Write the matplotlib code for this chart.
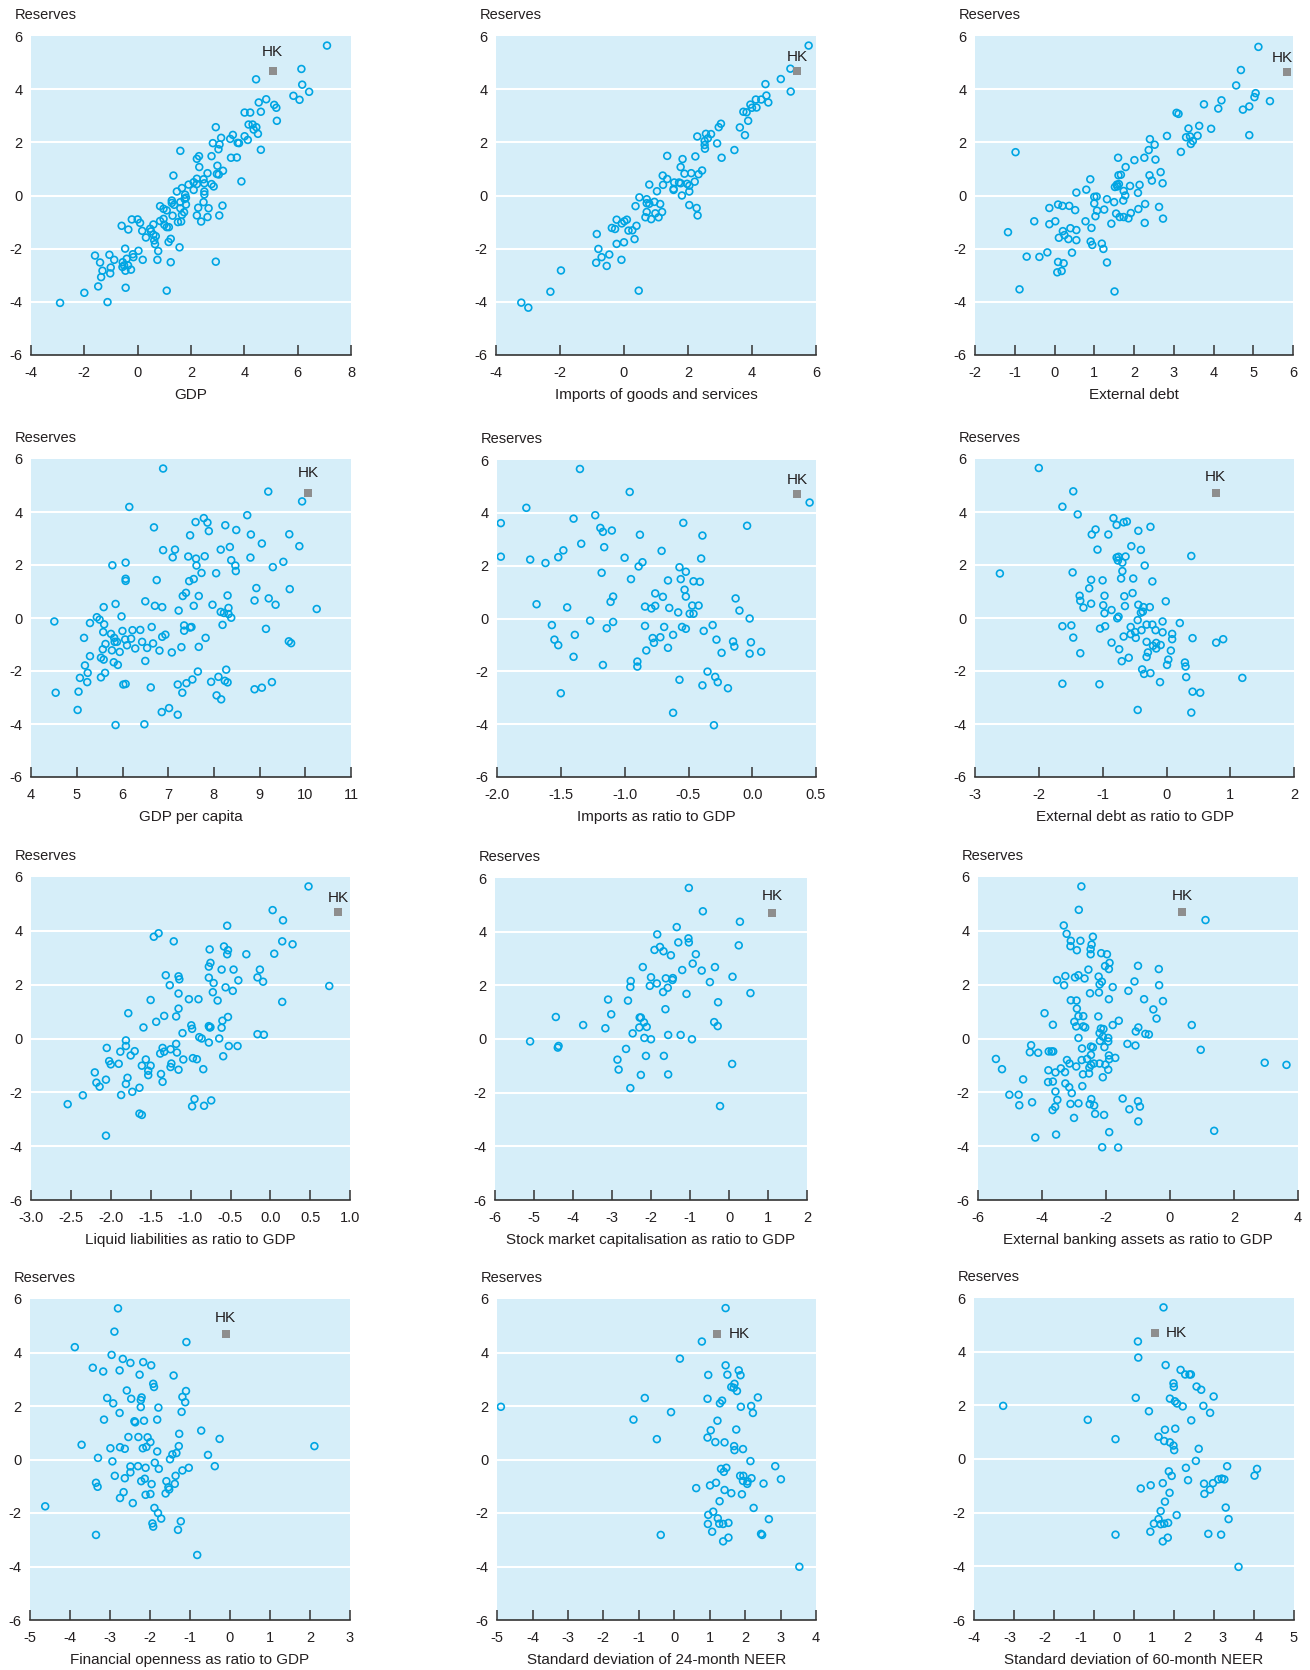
import matplotlib.pyplot as plt

plt.rcParams['font.family'] = ['Liberation Sans', 'DejaVu Sans']
plt.rcParams['axes.unicode_minus'] = False

# --- data: (x, reserves) per panel ---
gdp = [(7.10, 5.64), (4.44, 4.37), (6.14, 4.76), (6.17, 4.17), (6.43, 3.90), (5.84, 3.75), (6.07, 3.60),
       (4.82, 3.62), (4.54, 3.50), (5.12, 3.41), (5.20, 3.30), (5.22, 2.81), (4.01, 3.12), (4.22, 3.12),
       (4.62, 3.15), (4.16, 2.67), (4.31, 2.67), (4.45, 2.57), (4.35, 2.48), (4.51, 2.32), (4.01, 2.23),
       (4.13, 2.09), (4.62, 1.72), (2.93, 2.57), (3.57, 2.28), (3.47, 2.13), (3.13, 2.17), (2.82, 1.97),
       (3.07, 1.92), (3.03, 1.74), (3.75, 1.98), (3.80, 1.97), (1.60, 1.68), (2.22, 1.38), (2.30, 1.48),
       (2.77, 1.48), (3.50, 1.42), (3.72, 1.43), (2.31, 1.07), (2.99, 1.12), (3.20, 0.93), (2.97, 0.81),
       (3.04, 0.79), (2.62, 0.84), (1.34, 0.75), (3.89, 0.53), (2.22, 0.63), (2.47, 0.61), (2.10, 0.50),
       (1.91, 0.41), (2.22, 0.43), (2.50, 0.46), (2.77, 0.43), (2.85, 0.34), (1.66, 0.28), (2.10, 0.21),
       (1.47, 0.15), (2.50, 0.15), (2.50, 0.04), (1.78, 0.03), (1.81, -0.08), (1.76, -0.13), (1.60, -0.25),
       (1.28, -0.19), (1.28, -0.28), (1.37, -0.35), (1.81, -0.34), (2.47, -0.25), (3.18, -0.38), (0.84, -0.40),
       (0.97, -0.50), (1.09, -0.56), (1.60, -0.48), (1.74, -0.63), (2.27, -0.46), (2.66, -0.48), (2.22, -0.75),
       (1.66, -0.73), (1.31, -0.76), (3.06, -0.75), (2.62, -0.81), (2.38, -0.98), (1.51, -1.00), (1.63, -0.98),
       (0.97, -0.88), (0.84, -0.96), (-0.22, -0.90), (0.00, -0.90), (0.09, -1.03), (-0.60, -1.14), (-0.35, -1.28),
       (0.59, -1.09), (1.00, -1.10), (1.09, -1.19), (1.17, -1.19), (0.47, -1.25), (0.17, -1.33), (0.50, -1.35),
       (0.59, -1.47), (0.68, -1.53), (0.31, -1.58), (0.62, -1.69), (0.65, -1.83), (1.24, -1.63), (1.16, -1.75),
       (1.57, -1.95), (0.77, -2.09), (-0.47, -2.00), (0.03, -2.08), (-0.18, -2.21), (-0.16, -2.32), (-0.41, -2.38),
       (0.19, -2.42), (0.74, -2.42), (1.24, -2.51), (2.93, -2.49), (-1.60, -2.26), (-1.06, -2.23), (-0.88, -2.42),
       (-1.41, -2.52), (-1.01, -2.71), (-1.32, -2.83), (-1.37, -3.07), (-1.03, -2.93), (-0.56, -2.51),
       (-0.51, -2.63), (-0.57, -2.69), (-0.46, -2.83), (-0.25, -2.79), (-0.36, -2.63), (-1.48, -3.42),
       (-0.45, -3.47), (-2.00, -3.66), (1.09, -3.58), (-2.91, -4.04), (-1.13, -4.01)]

imports = [(5.77, 5.64), (5.20, 4.77), (4.90, 4.38), (5.21, 3.91), (4.42, 4.19), (4.45, 3.76), (4.51, 3.50),
           (4.29, 3.61), (4.12, 3.61), (4.14, 3.31), (3.95, 3.42), (4.00, 3.30), (3.83, 3.13), (3.73, 3.15),
           (3.88, 2.81), (3.62, 2.56), (3.78, 2.27), (3.03, 2.70), (2.96, 2.57), (2.91, 1.96), (3.45, 1.71),
           (3.05, 1.42), (2.29, 2.22), (2.56, 2.32), (2.72, 2.31), (2.62, 2.15), (2.52, 2.05), (2.52, 1.90),
           (2.53, 1.76), (1.35, 1.49), (1.83, 1.37), (2.23, 1.47), (1.77, 1.07), (1.89, 0.82), (2.10, 0.84),
           (2.33, 0.80), (2.44, 0.94), (1.21, 0.75), (1.35, 0.62), (2.21, 0.52), (1.57, 0.49), (1.72, 0.49),
           (1.77, 0.46), (1.97, 0.44), (2.04, 0.37), (1.22, 0.40), (0.79, 0.41), (1.55, 0.25), (1.55, 0.21),
           (1.03, 0.16), (2.04, 0.15), (1.81, 0.00), (0.48, -0.07), (0.71, -0.14), (0.71, -0.29), (0.79, -0.31),
           (0.95, -0.24), (1.13, -0.32), (0.36, -0.40), (2.04, -0.36), (2.27, -0.47), (2.30, -0.75), (0.71, -0.62),
           (0.98, -0.67), (1.19, -0.62), (0.67, -0.82), (0.85, -0.89), (1.08, -0.82), (-0.23, -0.91), (0.09, -0.91),
           (-0.07, -1.05), (0.01, -0.97), (-0.38, -1.22), (-0.28, -1.26), (0.39, -1.14), (0.14, -1.32),
           (0.26, -1.31), (-0.85, -1.45), (0.33, -1.64), (-0.23, -1.82), (0.00, -1.76), (-0.80, -2.01),
           (-0.46, -2.22), (-0.70, -2.32), (-0.87, -2.53), (-0.54, -2.65), (-0.08, -2.42), (-1.97, -2.82),
           (-2.30, -3.62), (0.46, -3.58), (-3.21, -4.03), (-2.99, -4.22)]

ext_debt = [(5.13, 5.59), (4.69, 4.72), (4.57, 4.14), (5.06, 3.85), (5.03, 3.70), (5.42, 3.55), (4.90, 3.35),
            (4.74, 3.23), (4.90, 2.27), (4.20, 3.58), (4.12, 3.27), (3.76, 3.43), (3.94, 2.51), (3.64, 2.62),
            (3.07, 3.11), (3.12, 3.07), (3.37, 2.52), (3.31, 2.19), (3.41, 2.22), (3.60, 2.25), (3.48, 2.05),
            (3.43, 1.94), (2.83, 2.24), (3.18, 1.64), (2.40, 2.12), (2.52, 1.91), (2.37, 1.71), (2.26, 1.42),
            (2.54, 1.35), (2.01, 1.33), (1.60, 1.42), (1.79, 1.07), (-0.98, 1.63), (1.61, 0.76), (1.67, 0.78),
            (2.39, 0.76), (2.67, 0.88), (2.45, 0.56), (2.72, 0.46), (2.14, 0.40), (1.90, 0.36), (0.90, 0.61),
            (1.52, 0.32), (1.57, 0.41), (1.62, 0.43), (1.58, 0.34), (0.80, 0.22), (0.55, 0.11), (1.74, 0.17),
            (2.10, 0.10), (1.00, -0.05), (1.06, -0.04), (1.78, 0.00), (1.32, -0.14), (1.73, -0.19), (1.50, -0.25),
            (1.00, -0.30), (2.28, -0.32), (2.63, -0.43), (0.09, -0.34), (0.20, -0.39), (0.37, -0.39), (0.52, -0.55),
            (-0.13, -0.47), (1.07, -0.57), (1.25, -0.53), (2.11, -0.51), (1.03, -0.78), (1.55, -0.68), (1.64, -0.81),
            (1.74, -0.81), (1.86, -0.86), (1.92, -0.66), (2.73, -0.87), (2.27, -1.03), (1.43, -1.06), (0.78, -0.97),
            (0.02, -0.97), (-0.13, -1.08), (-0.51, -0.97), (0.93, -1.22), (-1.17, -1.38), (0.21, -1.34),
            (0.40, -1.23), (0.55, -1.30), (0.25, -1.49), (0.11, -1.59), (0.35, -1.64), (0.55, -1.68), (0.91, -1.73),
            (0.95, -1.86), (1.19, -1.81), (1.23, -2.01), (-0.18, -2.14), (0.44, -2.15), (-0.70, -2.30),
            (-0.38, -2.31), (0.09, -2.50), (0.23, -2.55), (1.32, -2.52), (0.07, -2.89), (0.18, -2.84),
            (-0.88, -3.53), (1.51, -3.61)]

gdp_pc = [(6.89, 5.64), (9.19, 4.77), (9.93, 4.40), (6.15, 4.19), (8.73, 3.88), (7.78, 3.77), (7.60, 3.62),
          (7.86, 3.60), (8.25, 3.50), (8.49, 3.32), (7.89, 3.28), (6.69, 3.42), (7.48, 3.12), (8.81, 3.15),
          (9.65, 3.16), (9.05, 2.81), (9.87, 2.71), (8.35, 2.68), (8.15, 2.58), (7.15, 2.58), (6.89, 2.56),
          (7.10, 2.29), (7.44, 2.32), (7.61, 2.24), (7.80, 2.33), (8.80, 2.28), (8.38, 2.18), (8.47, 1.98),
          (7.62, 1.98), (5.78, 1.99), (6.07, 2.09), (9.52, 2.12), (9.29, 1.92), (8.48, 1.77), (7.73, 1.70),
          (8.05, 1.69), (6.07, 1.48), (6.07, 1.40), (6.75, 1.43), (7.46, 1.39), (7.56, 1.47), (8.93, 1.13),
          (9.66, 1.09), (7.39, 0.95), (7.32, 0.83), (7.67, 0.83), (8.30, 0.85), (9.20, 0.74), (8.89, 0.66),
          (9.35, 0.50), (5.85, 0.53), (6.50, 0.63), (6.71, 0.46), (6.87, 0.41), (7.56, 0.46), (7.97, 0.50),
          (5.59, 0.41), (7.23, 0.28), (8.32, 0.38), (8.15, 0.23), (8.22, 0.19), (8.32, 0.15), (8.38, 0.01),
          (10.25, 0.34), (5.98, 0.06), (4.51, -0.13), (5.44, 0.03), (5.50, -0.06), (5.29, -0.19), (5.60, -0.24),
          (8.19, -0.26), (7.35, -0.28), (7.35, -0.48), (7.48, -0.36), (7.51, -0.34), (6.64, -0.34), (6.39, -0.45),
          (6.22, -0.46), (6.00, -0.49), (5.58, -0.53), (5.75, -0.60), (9.14, -0.41), (6.94, -0.63), (6.87, -0.71),
          (5.16, -0.75), (5.82, -0.75), (6.06, -0.81), (6.19, -0.78), (7.82, -0.75), (5.83, -0.90), (5.88, -0.90),
          (6.43, -0.90), (9.64, -0.88), (9.69, -0.95), (6.67, -0.96), (5.63, -0.98), (6.10, -1.03), (6.54, -1.13),
          (6.28, -1.15), (7.29, -1.10), (7.67, -1.09), (5.57, -1.18), (5.77, -1.22), (6.81, -1.23), (7.08, -1.30),
          (5.94, -1.28), (5.29, -1.44), (5.53, -1.50), (5.59, -1.57), (5.81, -1.67), (6.50, -1.62), (5.90, -1.77),
          (5.18, -1.79), (5.24, -2.07), (5.62, -2.07), (5.53, -2.24), (5.07, -2.26), (5.23, -2.42), (7.65, -2.02),
          (8.27, -1.95), (8.10, -2.22), (7.53, -2.32), (7.40, -2.46), (7.94, -2.41), (8.24, -2.37), (8.30, -2.43),
          (9.27, -2.42), (7.21, -2.51), (9.05, -2.63), (8.89, -2.69), (6.02, -2.51), (6.07, -2.49), (6.62, -2.62),
          (7.31, -2.82), (5.04, -2.78), (4.54, -2.82), (8.06, -2.92), (8.16, -3.07), (5.02, -3.47), (7.02, -3.40),
          (6.86, -3.55), (7.21, -3.65), (5.85, -4.04), (6.48, -4.01)]

imports_ratio = [(-1.35, 5.66), (-0.96, 4.79), (0.45, 4.39), (-1.77, 4.19), (-1.23, 3.91), (-1.40, 3.78),
                 (-1.97, 3.61), (-0.54, 3.62), (-0.04, 3.51), (-1.19, 3.43), (-1.17, 3.28), (-1.10, 3.33),
                 (-0.88, 3.17), (-0.39, 3.14), (-1.34, 2.83), (-1.16, 2.70), (-1.48, 2.58), (-0.71, 2.56),
                 (-1.97, 2.34), (-1.52, 2.32), (-1.74, 2.23), (-1.00, 2.30), (-0.40, 2.27), (-1.62, 2.10),
                 (-0.86, 2.13), (-0.89, 1.97), (-0.57, 1.94), (-0.52, 1.77), (-1.18, 1.73), (-0.95, 1.49),
                 (-0.66, 1.44), (-0.56, 1.49), (-0.46, 1.41), (-0.41, 1.39), (-0.53, 1.09), (-0.76, 0.95),
                 (-0.70, 0.82), (-0.52, 0.83), (-1.09, 0.83), (-1.11, 0.63), (-0.13, 0.76), (-1.69, 0.54),
                 (-1.45, 0.42), (-0.84, 0.45), (-0.79, 0.38), (-0.76, 0.48), (-0.65, 0.40), (-0.47, 0.49),
                 (-0.42, 0.49), (-0.58, 0.23), (-0.49, 0.18), (-0.46, 0.18), (-0.10, 0.30), (-0.02, 0.00),
                 (-1.27, -0.08), (-1.09, -0.13), (-1.57, -0.25), (-0.84, -0.28), (-0.31, -0.25), (-1.14, -0.37),
                 (-0.69, -0.32), (-0.55, -0.32), (-0.52, -0.39), (-0.38, -0.47), (-1.39, -0.62), (-0.62, -0.62),
                 (-0.72, -0.71), (-0.78, -0.74), (-0.28, -0.80), (-1.55, -0.80), (-1.52, -1.01), (-0.77, -0.92),
                 (-0.15, -0.87), (-0.01, -0.90), (-0.14, -1.06), (-0.66, -1.11), (-0.83, -1.21), (-0.24, -1.30),
                 (-0.02, -1.33), (0.07, -1.26), (-1.40, -1.45), (-0.90, -1.63), (-1.17, -1.76), (-0.90, -1.82),
                 (-0.35, -2.01), (-0.29, -2.21), (-0.27, -2.41), (-0.57, -2.32), (-0.39, -2.53), (-0.19, -2.64),
                 (-1.50, -2.83), (-0.62, -3.57), (-0.30, -4.04)]

debt_ratio = [(-2.00, 5.66), (-1.46, 4.78), (-1.63, 4.20), (-1.39, 3.91), (-0.83, 3.77), (-0.78, 3.51),
              (-0.67, 3.61), (-0.62, 3.64), (-0.25, 3.44), (-1.11, 3.34), (-1.17, 3.15), (-0.91, 3.15),
              (-0.44, 3.29), (-0.55, 2.71), (-0.40, 2.57), (-1.08, 2.58), (0.39, 2.34), (-0.78, 2.28),
              (-0.75, 2.31), (-0.64, 2.32), (-0.76, 2.17), (-0.69, 2.09), (-0.34, 1.98), (-2.61, 1.68),
              (-1.47, 1.72), (-0.69, 1.77), (-0.71, 1.49), (-0.52, 1.49), (-0.22, 1.38), (-1.18, 1.44),
              (-1.00, 1.42), (-1.21, 1.12), (-0.53, 0.94), (-1.36, 0.84), (-0.97, 0.84), (-0.66, 0.82),
              (-1.35, 0.65), (-1.18, 0.54), (-0.99, 0.48), (-0.65, 0.45), (-0.44, 0.50), (-0.01, 0.63),
              (-1.30, 0.39), (-0.36, 0.41), (-0.26, 0.41), (-0.86, 0.30), (-0.97, 0.18), (-0.40, 0.20),
              (-0.37, 0.24), (-0.75, 0.05), (-0.77, -0.01), (-0.45, -0.08), (-0.06, -0.13), (0.21, -0.19),
              (-1.63, -0.31), (-1.49, -0.28), (-0.96, -0.31), (-1.04, -0.40), (-0.56, -0.34), (-0.31, -0.25),
              (-0.22, -0.25), (-0.17, -0.46), (-0.39, -0.46), (-0.49, -0.53), (-0.06, -0.54), (0.09, -0.60),
              (-0.56, -0.61), (-0.48, -0.75), (-0.67, -0.70), (-1.46, -0.74), (0.09, -0.80), (0.41, -0.76),
              (0.89, -0.80), (0.78, -0.93), (-0.86, -0.93), (-0.31, -0.90), (-0.16, -0.94), (-0.09, -1.02),
              (-0.21, -1.05), (-0.16, -1.15), (-0.74, -1.18), (0.07, -1.23), (-0.29, -1.30), (-1.35, -1.33),
              (-0.31, -1.47), (-0.59, -1.50), (-0.70, -1.63), (0.03, -1.57), (0.29, -1.68), (0.01, -1.77),
              (0.30, -1.83), (-0.38, -1.94), (-0.35, -2.11), (-0.25, -2.08), (0.31, -2.23), (1.19, -2.26),
              (-0.10, -2.42), (-1.63, -2.48), (-1.05, -2.50), (0.41, -2.78), (0.53, -2.82), (-0.45, -3.47),
              (0.39, -3.57)]

liquid = [(0.48, 5.65), (0.03, 4.77), (0.16, 4.39), (-0.54, 4.19), (-1.40, 3.91), (-1.46, 3.78), (-1.21, 3.61),
          (0.15, 3.61), (0.28, 3.50), (-0.58, 3.42), (-0.53, 3.28), (-0.54, 3.13), (-0.76, 3.31), (-0.30, 3.13),
          (0.05, 3.15), (-0.75, 2.81), (-0.77, 2.67), (-0.61, 2.56), (-0.46, 2.56), (-0.13, 2.56), (-1.31, 2.35),
          (-1.15, 2.31), (-1.14, 2.20), (-0.77, 2.26), (-0.71, 2.06), (-0.40, 2.16), (-0.16, 2.27), (-0.09, 2.11),
          (0.74, 1.95), (-1.26, 1.98), (-0.56, 1.90), (-0.47, 1.77), (-0.72, 1.72), (-1.15, 1.67), (-1.50, 1.43),
          (-1.02, 1.46), (-0.90, 1.46), (-0.66, 1.41), (0.15, 1.36), (-1.15, 1.11), (-1.78, 0.94), (-1.33, 0.84),
          (-1.18, 0.82), (-0.53, 0.80), (-0.60, 0.66), (-1.43, 0.62), (-0.99, 0.49), (-0.98, 0.36), (-0.77, 0.46),
          (-0.75, 0.42), (-0.76, 0.41), (-0.61, 0.40), (-1.59, 0.41), (-1.10, 0.20), (-0.16, 0.16), (-0.08, 0.14),
          (-0.89, 0.05), (-0.86, 0.00), (-0.64, 0.00), (-1.81, -0.07), (-1.81, -0.28), (-0.77, -0.15),
          (-1.18, -0.20), (-2.05, -0.35), (-1.35, -0.35), (-1.25, -0.40), (-1.33, -0.49), (-1.38, -0.56),
          (-1.17, -0.52), (-0.52, -0.28), (-0.41, -0.28), (-1.70, -0.47), (-1.88, -0.49), (-1.75, -0.63),
          (-1.56, -0.78), (-1.09, -0.78), (-0.97, -0.73), (-0.92, -0.77), (-0.59, -0.66), (-2.02, -0.84),
          (-2.00, -0.96), (-1.90, -0.94), (-1.61, -1.01), (-1.50, -1.01), (-1.24, -0.93), (-1.25, -1.06),
          (-1.15, -1.16), (-0.84, -1.14), (-1.53, -1.20), (-1.53, -1.36), (-1.37, -1.32), (-2.20, -1.26),
          (-2.06, -1.53), (-1.79, -1.46), (-1.81, -1.69), (-2.18, -1.64), (-2.14, -1.79), (-1.35, -1.61),
          (-1.64, -1.83), (-1.73, -1.98), (-2.35, -2.11), (-1.87, -2.10), (-2.54, -2.44), (-0.95, -2.25),
          (-0.74, -2.30), (-0.98, -2.52), (-0.83, -2.50), (-1.64, -2.79), (-1.61, -2.84), (-2.06, -3.61)]

stock_cap = [(-1.03, 5.63), (-0.67, 4.76), (0.28, 4.37), (-1.34, 4.17), (-1.84, 3.90), (-1.04, 3.75),
             (-1.03, 3.60), (-1.30, 3.60), (-1.77, 3.43), (-1.91, 3.32), (-1.68, 3.27), (-1.49, 3.12),
             (-0.85, 3.16), (0.25, 3.49), (-0.93, 2.81), (-2.21, 2.68), (-0.36, 2.68), (-1.20, 2.57),
             (-0.70, 2.55), (-2.00, 2.30), (-1.62, 2.26), (-1.44, 2.27), (-1.45, 2.20), (0.09, 2.32),
             (-2.52, 2.16), (-1.85, 2.07), (-0.49, 2.12), (-2.53, 1.94), (-2.03, 1.98), (-1.57, 1.91),
             (-1.69, 1.75), (-1.09, 1.68), (0.55, 1.71), (-3.10, 1.47), (-2.59, 1.43), (-0.28, 1.37),
             (-1.63, 1.11), (-3.02, 0.92), (-4.44, 0.82), (-2.29, 0.80), (-2.26, 0.80), (-2.18, 0.62),
             (-0.38, 0.63), (-0.29, 0.48), (-3.74, 0.52), (-2.30, 0.43), (-2.11, 0.45), (-3.17, 0.40),
             (-2.47, 0.21), (-1.56, 0.15), (-1.24, 0.15), (-2.17, 0.04), (-2.00, -0.01), (-0.95, -0.01),
             (-5.10, -0.09), (-4.37, -0.26), (-4.39, -0.32), (-2.64, -0.37), (-2.13, -0.63), (-1.67, -0.63),
             (-2.86, -0.77), (0.08, -0.93), (-2.83, -1.14), (-2.26, -1.34), (-1.56, -1.32), (-2.53, -1.83),
             (-0.23, -2.50)]

banking = [(-2.77, 5.65), (-2.85, 4.78), (1.11, 4.40), (-3.32, 4.20), (-3.23, 3.89), (-2.41, 3.78), (-3.10, 3.63),
           (-2.80, 3.63), (-3.11, 3.43), (-2.91, 3.28), (-2.45, 3.49), (-2.48, 3.32), (-2.48, 3.13), (-2.15, 3.17),
           (-1.97, 3.13), (-1.89, 2.81), (-2.03, 2.69), (-1.91, 2.58), (-1.00, 2.70), (-0.35, 2.58), (-2.55, 2.56),
           (-3.27, 2.32), (-2.97, 2.27), (-2.86, 2.35), (-2.67, 2.23), (-2.23, 2.30), (-2.13, 2.11), (-2.20, 2.01),
           (-3.53, 2.17), (-3.31, 1.98), (-1.79, 1.91), (-1.11, 2.12), (-0.34, 1.98), (-1.30, 1.77), (-2.50, 1.68),
           (-2.22, 1.71), (-3.10, 1.42), (-2.92, 1.41), (-1.91, 1.46), (-0.81, 1.46), (-0.22, 1.39), (-2.91, 1.11),
           (-0.52, 1.08), (-3.92, 0.94), (-2.86, 0.83), (-2.71, 0.83), (-2.24, 0.82), (-0.42, 0.74), (-1.60, 0.66),
           (-2.99, 0.62), (-3.66, 0.51), (-2.93, 0.45), (-2.71, 0.45), (-2.65, 0.41), (-1.79, 0.50), (-2.16, 0.37),
           (-2.08, 0.35), (-0.99, 0.41), (-1.07, 0.26), (0.68, 0.50), (-0.77, 0.17), (-0.66, 0.15), (-2.20, 0.20),
           (-2.10, 0.07), (-1.93, 0.02), (-2.86, 0.02), (-2.19, -0.09), (-1.93, -0.11), (-1.33, -0.20),
           (-1.08, -0.26), (-2.47, -0.30), (-2.41, -0.33), (-2.05, -0.32), (-2.75, -0.37), (-4.34, -0.25),
           (-4.38, -0.51), (-4.12, -0.53), (-3.79, -0.48), (-3.70, -0.48), (-3.65, -0.48), (0.96, -0.42),
           (-2.47, -0.61), (-1.91, -0.63), (-1.71, -0.72), (-2.59, -0.76), (-1.90, -0.77), (-5.44, -0.76),
           (-3.22, -0.80), (-2.76, -0.80), (-3.14, -0.93), (-2.38, -0.93), (-2.20, -0.93), (-2.02, -0.97),
           (-2.47, -0.98), (-2.93, -1.04), (-2.52, -1.08), (2.96, -0.90), (3.64, -0.98), (-5.25, -1.14),
           (-3.41, -1.11), (-3.80, -1.18), (-3.28, -1.25), (-3.58, -1.26), (-1.93, -1.16), (-2.53, -1.30),
           (-2.72, -1.33), (-2.10, -1.44), (-4.59, -1.52), (-3.81, -1.62), (-3.66, -1.60), (-3.27, -1.67),
           (-2.74, -1.77), (-3.15, -1.81), (-3.58, -1.97), (-3.07, -2.03), (-5.02, -2.09), (-4.73, -2.09),
           (-3.52, -2.28), (-2.46, -2.25), (-1.48, -2.23), (-1.00, -2.33), (-4.31, -2.37), (-4.71, -2.48),
           (-3.11, -2.43), (-2.86, -2.41), (-2.51, -2.44), (-2.37, -2.49), (-0.94, -2.53), (-3.59, -2.54),
           (-3.67, -2.66), (-1.27, -2.63), (-2.34, -2.80), (-2.06, -2.84), (-3.00, -2.95), (-0.99, -3.08),
           (-1.90, -3.48), (1.38, -3.43), (-3.56, -3.57), (-4.21, -3.68), (-2.12, -4.04), (-1.62, -4.05)]

fin_open = [(-2.80, 5.65), (-2.89, 4.78), (-1.09, 4.39), (-3.88, 4.20), (-2.96, 3.91), (-2.68, 3.76), (-2.49, 3.61),
            (-2.17, 3.64), (-1.97, 3.52), (-3.43, 3.43), (-3.17, 3.29), (-2.76, 3.33), (-2.26, 3.17), (-1.41, 3.14),
            (-1.92, 2.83), (-1.90, 2.71), (-2.58, 2.58), (-1.10, 2.56), (-3.07, 2.30), (-2.47, 2.27), (-2.21, 2.32),
            (-2.23, 2.22), (-1.19, 2.34), (-1.12, 2.14), (-2.92, 2.10), (-2.23, 1.96), (-1.79, 1.94), (-2.76, 1.74),
            (-1.21, 1.78), (-3.15, 1.49), (-2.39, 1.43), (-2.37, 1.39), (-2.15, 1.45), (-1.82, 1.49), (-0.72, 1.08),
            (-1.27, 0.96), (-2.54, 0.84), (-2.29, 0.84), (-2.06, 0.83), (-0.26, 0.77), (-1.99, 0.65), (-3.71, 0.55),
            (-2.99, 0.42), (-2.75, 0.46), (-2.63, 0.40), (-2.18, 0.42), (-2.09, 0.47), (-1.28, 0.50), (2.11, 0.50),
            (-1.82, 0.30), (-1.44, 0.19), (-1.34, 0.24), (-0.55, 0.17), (-3.30, 0.06), (-1.50, 0.01), (-2.94, -0.07),
            (-1.88, -0.12), (-2.49, -0.26), (-2.30, -0.25), (-2.11, -0.31), (-1.78, -0.35), (-1.03, -0.31),
            (-0.38, -0.25), (-1.19, -0.41), (-2.49, -0.48), (-2.88, -0.61), (-2.63, -0.70), (-1.36, -0.61),
            (-2.13, -0.72), (-2.22, -0.81), (-1.59, -0.81), (-3.35, -0.87), (-3.31, -1.02), (-1.96, -0.92),
            (-1.38, -0.91), (-1.54, -1.04), (-1.52, -1.12), (-2.66, -1.22), (-2.11, -1.32), (-1.99, -1.29),
            (-1.61, -1.27), (-2.75, -1.44), (-2.43, -1.63), (-4.62, -1.75), (-1.89, -1.81), (-1.80, -2.00),
            (-1.72, -2.21), (-1.94, -2.39), (-1.92, -2.51), (-1.23, -2.31), (-1.30, -2.63), (-3.35, -2.82),
            (-0.82, -3.57)]

neer24 = [(1.45, 5.66), (0.78, 4.41), (0.16, 3.77), (1.45, 3.52), (0.96, 3.16), (1.50, 3.17), (1.82, 3.33),
          (1.87, 3.15), (1.70, 2.83), (1.61, 2.71), (1.68, 2.68), (1.77, 2.56), (2.36, 2.32), (-0.83, 2.30),
          (0.94, 2.27), (1.35, 2.20), (1.29, 2.10), (-4.89, 1.97), (1.88, 1.97), (2.17, 2.00), (2.22, 1.74),
          (-0.09, 1.77), (-1.15, 1.49), (1.22, 1.45), (1.03, 1.09), (1.75, 1.12), (0.94, 0.82), (-0.49, 0.76),
          (1.16, 0.65), (1.42, 0.64), (1.69, 0.50), (1.70, 0.35), (1.94, 0.39), (2.15, -0.06), (2.85, -0.25),
          (1.32, -0.35), (1.47, -0.31), (1.40, -0.46), (1.86, -0.61), (1.95, -0.61), (2.18, -0.70), (1.94, -0.80),
          (2.07, -0.82), (2.06, -0.91), (3.01, -0.74), (2.52, -0.90), (1.18, -0.87), (1.01, -0.97), (0.62, -1.07),
          (1.42, -1.14), (1.61, -1.26), (1.91, -1.30), (1.28, -1.56), (2.24, -1.81), (1.10, -1.95), (0.96, -2.07),
          (2.67, -2.23), (1.23, -2.20), (1.27, -2.40), (1.38, -2.41), (1.53, -2.37), (0.95, -2.41), (1.07, -2.70),
          (-0.38, -2.82), (2.45, -2.78), (2.48, -2.82), (1.53, -2.92), (1.38, -3.06), (3.53, -4.01)]

neer60 = [(1.33, 5.65), (0.61, 4.38), (0.62, 3.78), (1.39, 3.50), (1.81, 3.32), (1.94, 3.15), (2.06, 3.15),
          (2.10, 3.15), (1.61, 2.82), (1.62, 2.69), (2.26, 2.70), (2.39, 2.58), (2.74, 2.33), (0.55, 2.28),
          (1.51, 2.25), (1.65, 2.15), (1.71, 2.07), (1.87, 1.96), (2.45, 1.98), (-3.18, 1.98), (0.92, 1.78),
          (2.64, 1.72), (-0.80, 1.46), (2.11, 1.44), (1.37, 1.09), (1.66, 1.13), (1.19, 0.83), (-0.02, 0.74),
          (1.35, 0.67), (1.51, 0.62), (1.61, 0.50), (1.63, 0.33), (2.32, 0.38), (2.24, -0.07), (1.96, -0.33),
          (3.12, -0.27), (3.96, -0.37), (3.89, -0.62), (1.48, -0.46), (1.56, -0.63), (2.02, -0.79), (2.87, -0.76),
          (2.97, -0.73), (3.04, -0.76), (2.72, -0.90), (2.47, -0.92), (1.31, -0.90), (0.97, -0.98), (0.69, -1.10),
          (2.64, -1.14), (2.48, -1.30), (1.50, -1.26), (1.37, -1.59), (1.25, -1.94), (3.08, -1.81), (1.70, -2.09),
          (3.16, -2.24), (1.19, -2.24), (1.06, -2.41), (1.25, -2.43), (1.35, -2.41), (1.46, -2.38), (0.96, -2.71),
          (2.59, -2.79), (2.95, -2.82), (-0.02, -2.82), (1.45, -2.93), (1.31, -3.07), (3.44, -4.02)]

# Hong Kong, one point per panel (same order as the panels)
hk_points = [(5.06, 4.69), (5.42, 4.69), (5.85, 4.63), (10.07, 4.70), (0.35, 4.70), (0.77, 4.70),
             (0.85, 4.70), (1.11, 4.68), (0.38, 4.69), (-0.11, 4.70), (1.21, 4.71), (1.09, 4.69)]

x_titles = ['GDP', 'Imports of goods and services', 'External debt',
            'GDP per capita', 'Imports as ratio to GDP', 'External debt as ratio to GDP',
            'Liquid liabilities as ratio to GDP', 'Stock market capitalisation as ratio to GDP',
            'External banking assets as ratio to GDP',
            'Financial openness as ratio to GDP', 'Standard deviation of 24-month NEER',
            'Standard deviation of 60-month NEER']

x_ticks = [list(range(-4, 9, 2)), list(range(-4, 7, 2)), list(range(-2, 7)),
           list(range(4, 12)), [-2.0, -1.5, -1.0, -0.5, 0.0, 0.5], list(range(-3, 3)),
           [-3.0, -2.5, -2.0, -1.5, -1.0, -0.5, 0.0, 0.5, 1.0], list(range(-6, 3)), list(range(-6, 5, 2)),
           list(range(-5, 4)), list(range(-5, 5)), list(range(-4, 6))]

y_ticks = list(range(-6, 7, 2))

series = [gdp, imports, ext_debt, gdp_pc, imports_ratio, debt_ratio,
          liquid, stock_cap, banking, fin_open, neer24, neer60]

# --- layout (pixel rects: left, top, right, bottom) ---
W, H = 1310, 1670
rects = [(31, 36, 351, 355), (496, 36, 816, 355), (975, 36, 1293, 355),
         (31, 459, 351, 777), (497, 460, 816, 777), (975, 459, 1294, 777),
         (31, 877, 350, 1200), (495, 878, 807, 1200), (978, 877, 1298, 1200),
         (30, 1299, 350, 1620), (497, 1299, 816, 1620), (974, 1298, 1294, 1620)]
# HK label offset in pixels and alignment
hk_lab = [(0, 19, 'center'), (0, 14, 'center'), (-5, 14, 'center'),
          (0, 20, 'center'), (0, 14, 'center'), (0, 16, 'center'),
          (0, 14, 'center'), (0, 17, 'center'), (0, 16, 'center'),
          (0, 16, 'center'), (12, 0, 'left'), (11, 0, 'left')]

BG = '#d6eef9'
DOT = '#00a5e3'
HKC = '#8e8e8e'
TXT = '#231f20'
AXC = '#333333'

fig = plt.figure(figsize=(W / 100, H / 100), dpi=100)

for i, pts in enumerate(series):
    l, t, r, b = rects[i]
    ax = fig.add_axes([l / W, 1 - b / H, (r - l) / W, (b - t) / H])
    ax.set_facecolor(BG)
    for s in ['top', 'right', 'left']:
        ax.spines[s].set_visible(False)
    ax.spines['bottom'].set_color(AXC)
    ax.spines['bottom'].set_linewidth(1.2)

    for yv in y_ticks[1:-1]:
        ax.axhline(yv, color='white', lw=1.5, zorder=1)

    xs = [p[0] for p in pts]
    ys = [p[1] for p in pts]
    ax.scatter(xs, ys, s=24, facecolors='none', edgecolors=DOT, linewidths=1.2, zorder=3)

    hx, hy = hk_points[i]
    ax.scatter([hx], [hy], marker='s', s=30, color=HKC, linewidths=0, zorder=4)
    dx, dy, ha = hk_lab[i]
    ax.annotate('HK', (hx, hy), xytext=(dx, dy), textcoords='offset pixels',
                ha=ha, va='center', fontsize=11, color=TXT)

    xt = x_ticks[i]
    span = xt[-1] - xt[0]
    ax.set_xlim(xt[0], xt[-1])
    ax.set_ylim(-6, 6)
    ax.set_yticks(y_ticks)
    ax.set_yticklabels([str(v) for v in y_ticks])
    ax.set_xticks(xt)
    if isinstance(xt[0], float):
        ax.set_xticklabels(['%.1f' % v for v in xt])
    else:
        ax.set_xticklabels([str(v) for v in xt])

    # tick marks are minor ticks; labels sit on label-only major ticks
    if i == 11:
        # in the source the tick marks of this panel are out of step with its labels
        marks = [xt[0] + k * span / 8 for k in range(9)]
    else:
        marks = list(xt)
    # nudge end marks inside the axis range and keep them off the major locations
    eps = span * 0.0005
    marks = [min(max(m, xt[0] + eps), xt[-1] - eps) for m in marks]
    marks = [m + eps if (m not in (xt[0] + eps, xt[-1] - eps)) else m for m in marks]
    ax.set_xticks(marks, minor=True)
    ax.tick_params(axis='x', which='major', length=0, pad=8, labelsize=10.5, labelcolor=TXT)
    ax.tick_params(axis='x', which='minor', direction='in', length=7, width=1.1, color=AXC)
    ax.tick_params(axis='y', length=0, pad=6, labelsize=10.5, labelcolor=TXT)

    ax.annotate(x_titles[i], (0.5, 0), xycoords='axes fraction', xytext=(0, -40),
                textcoords='offset pixels', ha='center', va='center', fontsize=11, color=TXT)
    fig.text((l - 16) / W, 1 - (t - 21) / H, 'Reserves', ha='left', va='center',
             fontsize=10.5, color=TXT)

fig.savefig('out.png', dpi=100)
